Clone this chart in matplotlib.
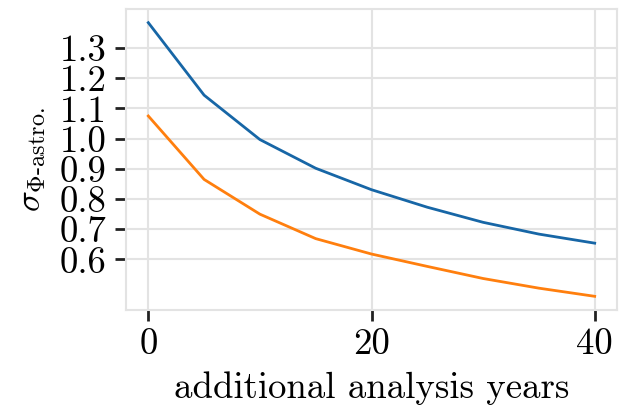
import matplotlib
matplotlib.use("Agg")
import matplotlib.pyplot as plt

years = [0, 5, 10, 15, 20, 25, 30, 35, 40]
sigma_blue = [1.384, 1.144, 0.997, 0.902, 0.831, 0.773, 0.723, 0.684, 0.654]
sigma_orange = [1.075, 0.865, 0.750, 0.669, 0.618, 0.577, 0.537, 0.505, 0.478]
xticks = [0, 20, 40]
yticks = [0.6, 0.7, 0.8, 0.9, 1.0, 1.1, 1.2, 1.3]

plt.rcParams['font.family'] = ['cmr10', 'DejaVu Serif']
plt.rcParams['mathtext.fontset'] = 'cm'
plt.rcParams['axes.formatter.use_mathtext'] = True

fig = plt.figure(figsize=(6.21, 4.11), dpi=100)
ax = fig.add_axes([126/621, 1 - 310/411, (617-126)/621, (310-9)/411])

ax.plot(years, sigma_blue, color='#1766a6', lw=2.0)
ax.plot(years, sigma_orange, color='#ff7f0e', lw=2.0)

ax.set_xticks(xticks)
ax.set_yticks(yticks)
ax.set_xticklabels([str(t) for t in xticks])
ax.set_yticklabels([f"{t:.1f}" for t in yticks])
ax.grid(True, color='#e3e3e3', lw=1.5)
ax.set_axisbelow(True)
for s in ax.spines.values():
    s.set_color('#e3e3e3')
    s.set_linewidth(1.5)
ax.tick_params(axis='both', labelsize=26.5, length=8, width=2.0, color='#222222', direction='out', pad=6)
ax.tick_params(axis='x', pad=5)
ax.set_xlabel('additional analysis years', fontsize=26.5, labelpad=7)
ax.set_ylabel(r'$\sigma_{\Phi\text{-astro.}}$', fontsize=25, labelpad=8)

fig.savefig('out.png', dpi=100)
